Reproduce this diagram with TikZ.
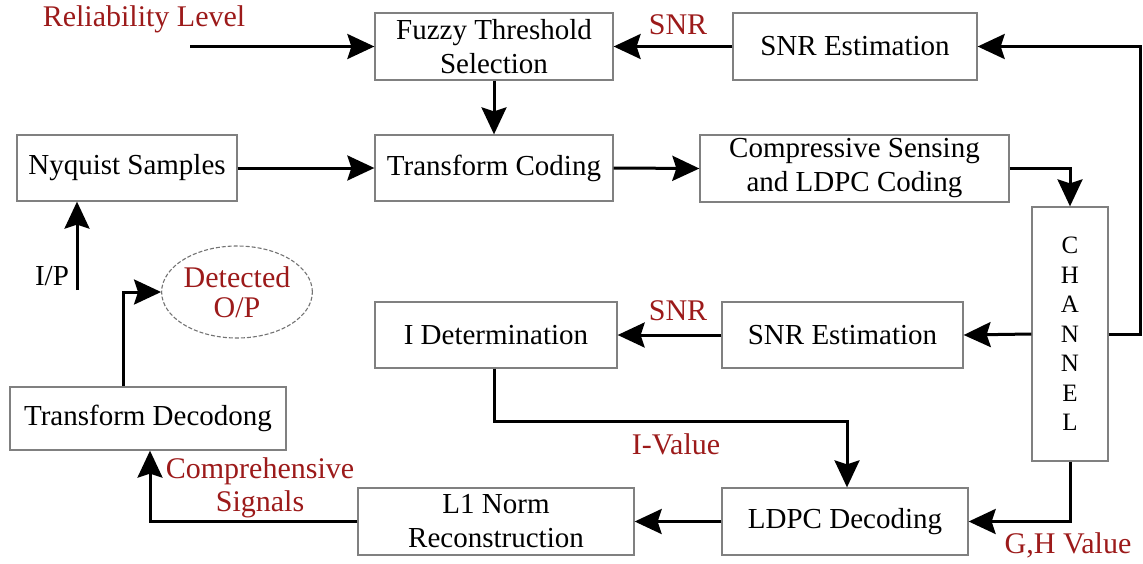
\documentclass[tikz,border=0pt]{standalone}
\usepackage{fontspec}
\setmainfont{Liberation Serif}
\usetikzlibrary{arrows.meta,shapes.geometric}
\definecolor{lbl}{HTML}{9C1A1A}
\begin{document}
\begin{tikzpicture}[x=1pt,y=-1pt,
  box/.style={draw=black!50, line width=1.3pt, inner sep=0pt, align=center, font=\fontsize{29}{34}\selectfont},
  arr/.style={line width=3pt, -{Stealth[length=27pt,width=25pt,inset=4pt]}},
  lab/.style={text=lbl, inner sep=0pt, align=center, font=\fontsize{30}{33}\selectfont},
  plain/.style={inner sep=0pt, font=\fontsize{29}{33}\selectfont}]
\useasboundingbox (0,0) rectangle (1143,563);
% boxes
\node[box, minimum width=238pt, minimum height=67pt] (fuzzy) at (494,46.5) {Fuzzy Threshold\\Selection};
\node[box, minimum width=244pt, minimum height=67pt] (snr1) at (855,46.5) {SNR Estimation};
\node[box, minimum width=220pt, minimum height=66pt] (nyq) at (127,168) {Nyquist Samples};
\node[box, minimum width=238pt, minimum height=66pt] (tc) at (494,168) {Transform Coding};
\node[box, minimum width=309pt, minimum height=67pt] (cs) at (854.5,168.5) {Compressive Sensing\\and LDPC Coding};
\node[box, minimum width=76pt, minimum height=254pt, font=\fontsize{25}{29.5}\selectfont] (chan) at (1070,334) {C\\H\\A\\N\\N\\E\\L};
\node[box, minimum width=242pt, minimum height=66pt] (idet) at (496,335) {I Determination};
\node[box, minimum width=241pt, minimum height=66pt] (snr2) at (842.5,335) {SNR Estimation};
\node[box, minimum width=276pt, minimum height=63pt] (td) at (148,418.5) {Transform Decodong};
\node[box, minimum width=276pt, minimum height=67pt] (l1) at (496,521.5) {L1 Norm\\Reconstruction};
\node[box, minimum width=246pt, minimum height=67pt] (ldpc) at (845,521.5) {LDPC Decoding};
\node[ellipse, draw=black!55, dash pattern=on 4pt off 2pt, line width=1.1pt, minimum width=132pt, minimum height=92pt, inner sep=0pt, text=lbl, align=center, font=\fontsize{30}{30}\selectfont] (det) at (237,292) {Detected\\O/P};
% labels
\node[lab] (lrel) at (144,19) {Reliability Level};
\node[lab] (lsnr1) at (678,25) {SNR};
\node[lab] (lsnr2) at (678,311) {SNR};
\node[lab] (lival) at (676,444) {I-Value};
\node[lab] (lgh) at (1068,545) {G,H Value};
\node[lab] (lcomp) at (260,488) {Comprehensive\\Signals};
\node[plain] (lip) at (52,276) {I/P};
% connectors
\coordinate (rlstart) at (190,46.5);
\coordinate (ipstart) at (77,290);
\draw[arr] (rlstart) -- (fuzzy.west);
\draw[arr] (snr1.west) -- (fuzzy.east);
\draw[arr] (fuzzy.south) -- (tc.north);
\draw[arr] (nyq.east) -- (tc.west);
\draw[arr] (tc.east) -- (cs.west);
\draw[arr] (cs.east) -| (chan.north);
\draw[arr] (chan.east) -- ++(32,0) |- (snr1.east);
\draw[arr] (chan.west) -- (snr2.east);
\draw[arr] (snr2.west) -- (idet.east);
\draw[arr] ([xshift=-2pt]idet.south) -- ++(0,53) -| ([xshift=2pt]ldpc.north);
\draw[arr] (chan.south) |- (ldpc.east);
\draw[arr] (ldpc.west) -- (l1.east);
\draw[arr] (l1.west) -| ([xshift=2pt]td.south);
\draw[arr] ([xshift=-25pt]td.north) |- (det.west);
\draw[arr] (ipstart) -- (nyq.south -| ipstart);
\end{tikzpicture}
\end{document}
